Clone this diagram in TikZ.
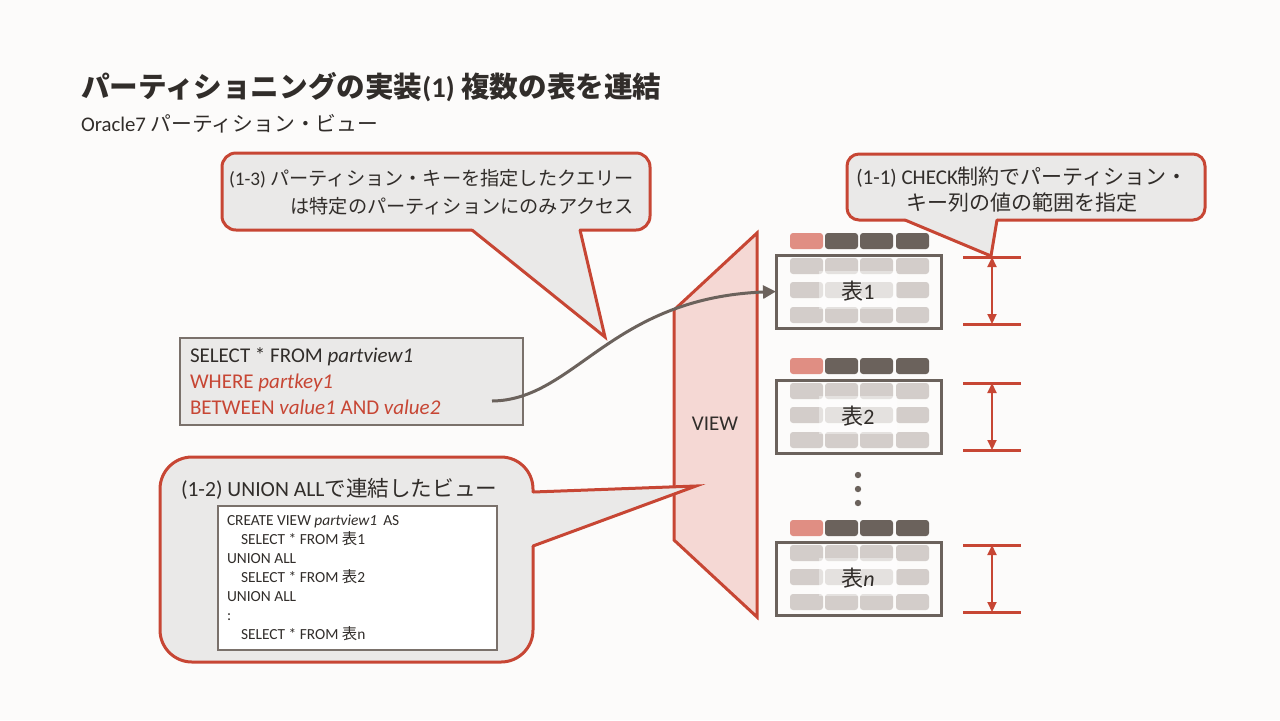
\documentclass[tikz,border=0pt]{standalone}
\usepackage{fontspec}
\setmainfont{Carlito}
\newfontfamily\jp{Noto Sans CJK JP}
\usetikzlibrary{arrows.meta}
\definecolor{bg}{HTML}{FCFBFA}
\definecolor{ored}{HTML}{C74634}
\definecolor{tdark}{HTML}{312D2A}
\definecolor{cfill}{HTML}{EAE9E8}
\definecolor{dgrey}{HTML}{6B625C}
\definecolor{lgrey}{HTML}{D3CDCA}
\definecolor{pcell}{HTML}{E08E83}
\definecolor{vfill}{HTML}{F5D8D4}
\definecolor{bgrey}{HTML}{7A716B}
\tikzset{
  calloutbox/.style={fill=cfill, draw=ored, line width=1.5pt},
  callouttail/.style={draw=ored, line width=1.5pt, line cap=round, line join=miter},
  cellbox/.style={rounded corners=1.5pt},
  tframe/.style={draw=dgrey, line width=1.5pt, minimum width=82.5pt, minimum height=36.5pt},
  tlabel/.style={font=\fontsize{11}{13}\selectfont},
  dimline/.style={draw=ored, line width=1.5pt},
  dimarrow/.style={draw=ored, line width=1pt, {Triangle[length=5pt,width=4.5pt]}-{Triangle[length=5pt,width=4.5pt]}},
  flow/.style={draw=dgrey, line width=1.5pt, -{Triangle[length=6.5pt,width=6.5pt]}},
  sqltext/.style={anchor=base west, font=\fontsize{10.5}{13}\selectfont},
  codetext/.style={anchor=base west, font=\fontsize{7.7}{9.5}\selectfont},
  calltext/.style={font=\fontsize{10.5}{13}\selectfont},
}
\newcommand\tblgrp[3]{%
  \begin{scope}[shift={(0,#1)}]
    \foreach \xx/\cc in {790/pcell,825/dgrey,860/dgrey,896/dgrey}
      \fill[\cc, cellbox] (\xx,233) rectangle ++(33,16);
    \foreach \yy in {258,282,307}
      \foreach \xx in {790,825,860,896}
        \fill[lgrey, cellbox] (\xx,\yy) rectangle ++(33,16);
    \fill[white, opacity=0.4] (819,271) rectangle (897,309);
    \node[tframe] (#2) at (858.5,291.5) {};
    \node[tlabel] (#2l) at (858,291) {#3};
  \end{scope}}
\begin{document}
\begin{tikzpicture}[x=0.5pt,y=-0.5pt, every node/.style={inner sep=0pt, outer sep=0pt, text=tdark}]
\useasboundingbox (0,0) rectangle (1280,720);
\fill[bg] (0,0) rectangle (1280,720);

% titles
\node[anchor=base west, font=\fontsize{14.3}{17}\selectfont\bfseries] (title) at (81,97)
  {{\jp パーティショニングの実装}(1) {\jp 複数の表を連結}};
\node[anchor=base west, font=\fontsize{10.4}{12}\selectfont] (sub) at (81,131)
  {Oracle7 {\jp パーティション・ビュー}};

% VIEW panel
\fill[vfill] (674,310) -- (757,233) -- (757,617) -- (674,540) -- cycle;
\draw[ored, line width=1.5pt, line join=miter] (674,310) -- (757,233) -- (757,617) -- (674,540) -- cycle;
\node[font=\fontsize{10.5}{13}\selectfont] (view) at (715,424) {VIEW};

% tables
\tblgrp{0}{t1}{{\jp 表}1}
\tblgrp{125}{t2}{{\jp 表}2}
\tblgrp{287}{tn}{{\jp 表}\textit{n}}
\foreach \yy in {475,489,503} \fill[dgrey] (858,\yy) circle (1.6pt);

% dimension markers
\foreach \ya/\yb/\nm in {257/324/a,383/450/b,545/612/c}{
  \coordinate (\nm1) at (992,\ya);
  \coordinate (\nm2) at (992,\yb);
  \draw[dimline] (963,\ya) -- (1021,\ya);
  \draw[dimline] (963,\yb) -- (1021,\yb);
  \draw[dimarrow] (\nm1) -- (\nm2);
}

% SQL box
\node[fill=cfill, draw=bgrey, line width=0.6pt, minimum width=171.5pt, minimum height=43.5pt] (sql) at (351.5,381.5) {};
\node[sqltext] (s1) at (190,362.5) {SELECT * FROM \textit{partview1}};
\node[sqltext, text=ored] (s2) at (190,388.5) {WHERE \textit{partkey1}};
\node[sqltext, text=ored] (s3) at (190,414.5) {BETWEEN \textit{value1} AND \textit{value2}};
\coordinate (qs) at (492,401);
\draw[flow] (qs) .. controls (575,400) and (610,298) .. (t1.west);

% callout (1-3)
\draw[calloutbox, rounded corners=7pt] (222,153) rectangle (650,230);
\fill[cfill] (472,226) -- (472,230) -- (605,337) -- (580,230) -- (580,226) -- cycle;
\draw[callouttail] (472,230) -- (605,337) -- (580,230);
\node[anchor=east, align=right, font=\fontsize{9.6}{14}\selectfont] (c3t) at (634,192)
  {(1-3) {\jp パーティション・キーを指定したクエリー}\\{\jp は特定のパーティションにのみアクセス}};

% callout (1-1)
\draw[calloutbox, rounded corners=6pt] (847,154) rectangle (1205,220);
\fill[cfill] (905,216) -- (905,220) -- (991,256) -- (997,220) -- (997,216) -- cycle;
\draw[callouttail] (905,220) -- (991,256) -- (997,220);
\node[calltext, align=center] (c1t) at (1022,190)
  {(1-1) CHECK{\jp 制約でパーティション・}\\{\jp キー列の値の範囲を指定}};

% callout (1-2)
\draw[calloutbox, rounded corners=16pt] (160,457) rectangle (533,662);
\fill[cfill] (529,492) -- (533,492) -- (696,486) -- (533,546) -- (529,546) -- cycle;
\draw[callouttail] (533,492) -- (696,486) -- (533,546);
\node[anchor=base west, font=\fontsize{10.8}{13}\selectfont] (c2t) at (181,496) {(1-2) UNION ALL{\jp で連結したビュー}};
\node[fill=white, draw=bgrey, line width=0.6pt, minimum width=139.5pt, minimum height=72pt] (code) at (357.5,578) {};
\node[codetext] (k1) at (227,525) {CREATE VIEW \textit{partview1}\, AS};
\node[codetext] (k2) at (241,544) {SELECT * FROM {\jp 表}1};
\node[codetext] (k3) at (227,563) {UNION ALL};
\node[codetext] (k4) at (241,582) {SELECT * FROM {\jp 表}2};
\node[codetext] (k5) at (227,601) {UNION ALL};
\node[codetext] (k6) at (227,620) {:};
\node[codetext] (k7) at (241,639) {SELECT * FROM {\jp 表}n};
\end{tikzpicture}
\end{document}
